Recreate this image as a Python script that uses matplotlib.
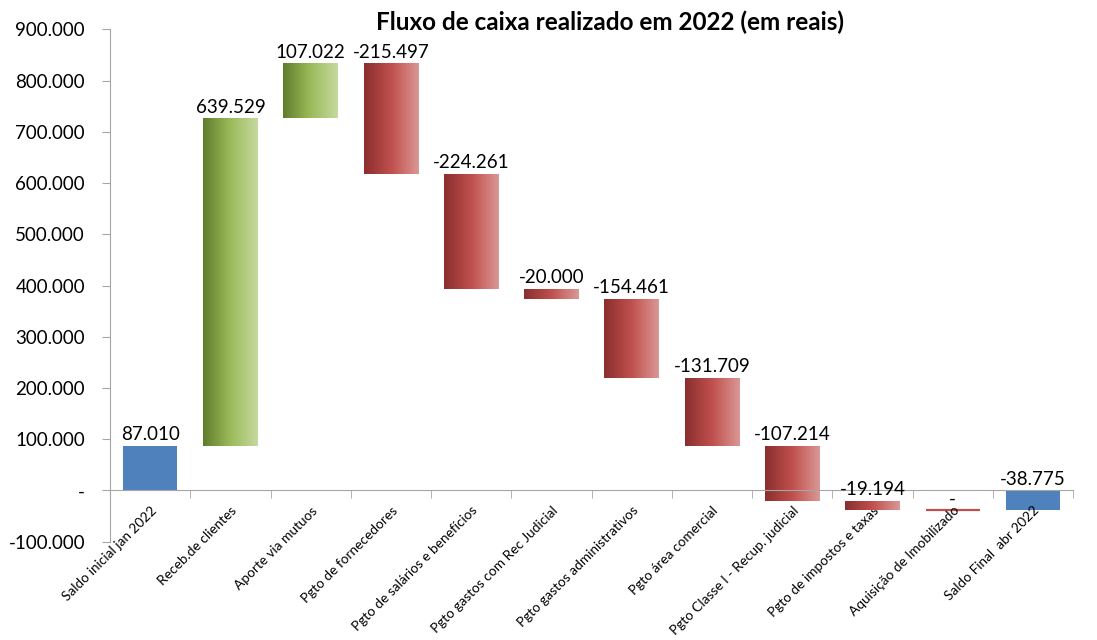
import numpy as np
import matplotlib.pyplot as plt
from matplotlib.colors import LinearSegmentedColormap
from matplotlib.ticker import FuncFormatter, FixedLocator

plt.rcParams['font.family'] = ['Lato', 'DejaVu Sans']

categories = [
    "Saldo inicial jan 2022",
    "Receb.de clientes",
    "Aporte via mutuos",
    "Pgto de fornecedores",
    "Pgto de salários e benefícios",
    "Pgto gastos com Rec Judicial",
    "Pgto gastos administrativos",
    "Pgto área comercial",
    "Pgto Classe I - Recup. judicial",
    "Pgto de impostos e taxas",
    "Aquisição de Imobilizado",
    "Saldo Final  abr 2022",
]
values = [87010, 639529, 107022, -215497, -224261, -20000, -154461,
          -131709, -107214, -19194, 0, -38775]
is_total = [True] + [False] * 10 + [True]

BLUE = "#4F81BD"
green_cmap = LinearSegmentedColormap.from_list("g", ["#5F7D2C", "#9BBB59", "#C6D9A0"])
red_cmap = LinearSegmentedColormap.from_list("r", ["#8A2E2E", "#C0504D", "#DA9896"])


def fmt_thousands(v, pos=None):
    if v == 0:
        return "-"
    s = f"{abs(int(round(v))):,}".replace(",", ".")
    return ("-" if v < 0 else "") + s


# waterfall geometry from the values
bottoms, heights = [], []
running = 0
for v, tot in zip(values, is_total):
    if tot:
        bottoms.append(0)
        heights.append(v)
        running = v
    else:
        bottoms.append(running)
        heights.append(v)
        running += v

fig = plt.figure(figsize=(10.97, 6.4), dpi=100)
ax = fig.add_axes([0.1003, 0.1536, 0.878, 0.8004])

x = np.arange(len(categories))
bars = ax.bar(x, heights, bottom=bottoms, width=0.68, color="none", linewidth=0)

grad = np.linspace(0, 1, 256).reshape(1, -1)
for i, (bar, v, tot) in enumerate(zip(bars, values, is_total)):
    if tot:
        bar.set_facecolor(BLUE)
        continue
    cmap = green_cmap if v > 0 else red_cmap
    if v == 0:
        bar.set_edgecolor("#C0504D")
        bar.set_linewidth(1.6)
        continue
    x0, y0 = bar.get_x(), bar.get_y()
    w, h = bar.get_width(), bar.get_height()
    im = ax.imshow(grad, cmap=cmap, aspect="auto",
                   extent=[x0, x0 + w, min(y0, y0 + h), max(y0, y0 + h)], zorder=2)
    im.set_clip_path(bar)

for i, (b, h, v) in enumerate(zip(bottoms, heights, values)):
    top = max(b, b + h)
    ax.annotate(fmt_thousands(v), (x[i], top), xytext=(0, 2), textcoords="offset points",
                ha="center", va="bottom", fontsize=13.5, color="black")

# spine position first: moving it resets the ticks
for side in ["top", "right"]:
    ax.spines[side].set_visible(False)
ax.spines["left"].set_color("#A6A6A6")
ax.spines["bottom"].set_color("#A6A6A6")
ax.spines["bottom"].set_position(("data", 0))

ax.set_xlim(-0.5, len(categories) - 0.5)
ax.set_ylim(-100000, 900000)
ax.set_yticks(np.arange(-100000, 900001, 100000))
ax.yaxis.set_major_formatter(FuncFormatter(fmt_thousands))
ax.tick_params(axis="y", direction="out", length=6, color="#A6A6A6", labelsize=13.5, pad=12)

ax.set_xticks(x)
ax.xaxis.set_minor_locator(FixedLocator(np.arange(-0.5, len(categories), 1.0)))
ax.tick_params(axis="x", which="minor", direction="out", length=6, color="#A6A6A6")
ax.tick_params(axis="x", which="major", length=0, pad=10)
ax.set_xticklabels(categories, rotation=45, ha="right", rotation_mode="anchor", fontsize=9.8)

fig.text(0.556, 0.965, "Fluxo de caixa realizado em 2022 (em reais)", ha="center", va="center",
         fontsize=17.5, fontweight="bold")

fig.savefig("out.png", dpi=100)
